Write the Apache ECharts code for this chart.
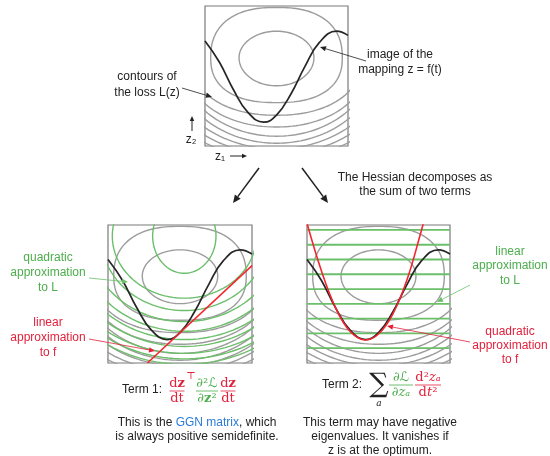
<!DOCTYPE html>
<html>
<head>
<meta charset="utf-8">
<script src="https://cdn.jsdelivr.net/npm/echarts@6/dist/echarts.min.js"></script>
<style>html,body{margin:0;padding:0;background:#fff}#main{width:550px;height:456px}</style>
</head>
<body>
<div id="main"></div>
<script>
// panel coords are normalised: x 0..1 left->right, y 0..1 top->bottom

// contours of the loss L(z): [rx, ryTop, ryBottom, squareness, closed]
var lossCenter = [0.50, 0.37];
var lossContours = [
    [0.262, 0.19, 0.20, 2.0, 1],
    [0.46, 0.36, 0.32, 2.4, 1],
    [0.60, 0.45, 0.41, 2.2, 0],
    [0.65, 0.54, 0.494, 2.1, 0],
    [0.68, 0.62, 0.56, 2.0, 0],
    [0.72, 0.68, 0.61, 2.0, 0],
    [0.78, 0.72, 0.65, 2.0, 0],
    [0.84, 0.76, 0.69, 2.0, 0],
    [0.90, 0.80, 0.73, 2.0, 0]
];

// quadratic approximation to L (green, panel 2): [rx, ry]
var quadCenter = [0.53, 0.08];
var quadContours = [
    [0.22, 0.27],
    [0.50, 0.45],
    [0.58, 0.54],
    [0.67, 0.62],
    [0.74, 0.69],
    [0.81, 0.75],
    [0.86, 0.80],
    [0.92, 0.85],
    [0.96, 0.89],
    [1.00, 0.93]
];

// the mapping z = f(t)
var curveX = [0, 0.1, 0.2, 0.3, 0.41, 0.5, 0.6, 0.7, 0.8, 0.92, 1.0];
var curveY = [0.25, 0.40, 0.60, 0.76, 0.83, 0.78, 0.63, 0.43, 0.26, 0.18, 0.21];

// linear approximation to f (red, panel 2)
var tangentX = [0.274, 1.0];
var tangentY = [1.0, 0.294];

// quadratic approximation to f (red, panel 3)
var parabolaX = [-0.01, 0.1, 0.2, 0.3, 0.41, 0.5, 0.6, 0.7, 0.8, 0.82];
var parabolaY = [-0.05, 0.33, 0.60, 0.77, 0.833, 0.79, 0.645, 0.395, 0.04, -0.04];

// linear approximation to L (green, panel 3): level lines
var linearLevels = [0.036, 0.143, 0.25, 0.357, 0.464, 0.571, 0.678, 0.785, 0.892];

var GRAY = '#9c9c9c', GREEN = '#6cbf6a', GREEN_T = '#4cae4c', RED = '#f3262e', RED_T = '#e3213c', BLUE = '#2b7bd6';
var SANS = '"Liberation Sans", Arial, sans-serif';
var SERIF = '"DejaVu Serif", "Liberation Serif", serif';

function ring(c, rx, ryT, ryB, p, closed) {
    var pts = [], n = 160;
    var end = closed ? 2 * Math.PI : Math.PI;
    for (var i = 0; i <= n; i++) {
        var a = i / n * end;
        var ca = Math.cos(a), sa = Math.sin(a);
        var ry = sa > 0 ? ryB : ryT;
        pts.push([c[0] + rx * Math.sign(ca) * Math.pow(Math.abs(ca), 2 / p),
                  c[1] + ry * Math.sign(sa) * Math.pow(Math.abs(sa), 2 / p)]);
    }
    return pts;
}
function zip(xs, ys) {
    return xs.map(function (x, i) { return [x, ys[i]]; });
}
function lineSeries(g, data, color, width, smooth, z) {
    return {
        type: 'line', xAxisIndex: g, yAxisIndex: g, data: data,
        showSymbol: false, smooth: smooth || false, clip: true, silent: true, z: z || 2,
        lineStyle: {color: color, width: width}
    };
}

var series = [];
[0, 1, 2].forEach(function (g) {
    lossContours.forEach(function (c) {
        series.push(lineSeries(g, ring(lossCenter, c[0], c[1], c[2], c[3], c[4]), GRAY, 1.4));
    });
});
quadContours.forEach(function (c) {
    series.push(lineSeries(1, ring(quadCenter, c[0], c[1], c[1], 2, 1), GREEN, 1.4, false, 3));
});
linearLevels.forEach(function (v) {
    series.push(lineSeries(2, [[0, v], [1, v]], GREEN, 1.8, false, 3));
});
[0, 1, 2].forEach(function (g) {
    series.push(lineSeries(g, zip(curveX, curveY), '#262626', 1.7, 0.45, 4));
});
series.push(lineSeries(1, zip(tangentX, tangentY), RED, 1.6, false, 5));
series.push(lineSeries(2, zip(parabolaX, parabolaY), RED, 1.6, 0.4, 5));

// ---- annotations
var graphic = [];
function txt(x, y, s, color, font, align, rich) {
    graphic.push({
        type: 'text', x: x, y: y, z: 10, silent: true,
        style: {
            text: s, fill: color || '#222', font: font || ('12px ' + SANS),
            align: align || 'center', verticalAlign: 'middle',
            textAlign: align || 'center', textVerticalAlign: 'middle',
            rich: rich
        }
    });
}
function arrow(x1, y1, x2, y2, color, w, head) {
    head = head || 6;
    var ang = Math.atan2(y2 - y1, x2 - x1);
    var bx = x2 - head * Math.cos(ang), by = y2 - head * Math.sin(ang);
    var hw = head * 0.45;
    graphic.push({type: 'line', z: 10, silent: true, shape: {x1: x1, y1: y1, x2: bx, y2: by},
        style: {stroke: color, lineWidth: w}});
    graphic.push({type: 'polygon', z: 10, silent: true, shape: {points: [
        [x2, y2],
        [bx + hw * Math.sin(ang), by - hw * Math.cos(ang)],
        [bx - hw * Math.sin(ang), by + hw * Math.cos(ang)]]},
        style: {fill: color}});
}
function frac(cx, y, num, den, color, w, rich) {
    txt(cx, y - 7, num, color, '13px ' + SERIF, 'center', rich);
    txt(cx, y + 7.5, den, color, '13px ' + SERIF, 'center', rich);
    graphic.push({type: 'line', z: 10, silent: true, shape: {x1: cx - w / 2, y1: y, x2: cx + w / 2, y2: y},
        style: {stroke: color, lineWidth: 0.8}});
}
var mathRich = {
    b: {font: 'bold 13px ' + SERIF},
    i: {font: 'italic 13px ' + SERIF},
    L: {font: '13px "DejaVu Sans", sans-serif'}
};

// top panel labels
txt(147, 77, 'contours of');
txt(147, 93, 'the loss L(z)');
arrow(182, 88, 212, 97, '#222', 0.8, 6);
txt(400, 55, 'image of the');
txt(400, 70, 'mapping z = f(t)');
arrow(366, 61, 320, 47, '#222', 0.8, 6);
txt(191, 140, 'z\u2082', '#222', '12px ' + SANS);
arrow(192, 131, 192, 116, '#222', 1, 5);
txt(220, 157, 'z\u2081', '#222', '12px ' + SANS);
arrow(230, 156, 247, 156, '#222', 1, 5);

// split arrows
arrow(259, 168, 233, 203, '#222', 1.5, 8);
arrow(302, 168, 328, 203, '#222', 1.5, 8);
txt(415, 178, 'The Hessian decomposes as');
txt(415, 192, 'the sum of two terms');

// panel 2 labels
txt(48, 258, 'quadratic', GREEN_T);
txt(48, 273, 'approximation', GREEN_T);
txt(48, 288, 'to L', GREEN_T);
arrow(89, 278, 128, 282, GREEN, 0.8, 6);
txt(48, 323, 'linear', RED_T);
txt(48, 338, 'approximation', RED_T);
txt(48, 353, 'to f', RED_T);
arrow(89, 339, 155, 351, RED_T, 0.8, 6);

// panel 3 labels
txt(510, 252, 'linear', GREEN_T);
txt(510, 266, 'approximation', GREEN_T);
txt(510, 281, 'to L', GREEN_T);
arrow(470, 285, 437, 302, GREEN, 0.8, 6);
txt(510, 332, 'quadratic', RED_T);
txt(510, 346, 'approximation', RED_T);
txt(510, 360, 'to f', RED_T);
arrow(470, 342, 387, 326, RED_T, 0.8, 6);

// term 1
txt(162, 390, 'Term 1:', '#222', '12px ' + SANS, 'right');
frac(177, 391, 'd{b|z}', 'dt', RED_T, 15, mathRich);
txt(191, 376, '\u22a4', RED_T, '10px ' + SERIF);
frac(207, 391, '\u2202\u00b2{L|\u2112}', '\u2202{b|z}\u00b2', GREEN_T, 22, mathRich);
frac(228, 391, 'd{b|z}', 'dt', RED_T, 15, mathRich);

// term 2
txt(362, 385, 'Term 2:', '#222', '12px ' + SANS, 'right');
txt(379, 385, '\u2211', '#222', '27px ' + SERIF);
txt(379, 404, 'a', '#222', 'italic 9px ' + SERIF);
frac(401, 385, '\u2202{L|\u2112}', '\u2202{i|z\u2090}', GREEN_T, 24, mathRich);
frac(428, 385, 'd\u00b2{i|z\u2090}', 'd{i|t}\u00b2', RED_T, 26, mathRich);

// captions
txt(197, 423, 'This is the {b|GGN matrix}, which', '#222', '12px ' + SANS, 'center',
    {b: {fill: BLUE, color: BLUE, font: '12px ' + SANS}});
txt(197, 437, 'is always positive semidefinite.');
txt(380, 423, 'This term may have negative');
txt(380, 437, 'eigenvalues. It vanishes if');
txt(380, 451, 'z is at the optimum.');

var grids = [
    {left: 205, top: 6, width: 143, height: 140},
    {left: 108, top: 225, width: 144, height: 138},
    {left: 307, top: 225, width: 143, height: 138}
];

var chart = echarts.init(document.getElementById('main'));
chart.setOption({
    animation: false,
    backgroundColor: '#fff',
    grid: grids.map(function (g) {
        return Object.assign({show: true, borderColor: '#7a7a7a', borderWidth: 1.2, backgroundColor: 'transparent'}, g);
    }),
    xAxis: grids.map(function (g, i) {
        return {type: 'value', gridIndex: i, min: 0, max: 1, show: false};
    }),
    yAxis: grids.map(function (g, i) {
        return {type: 'value', gridIndex: i, min: 0, max: 1, inverse: true, show: false};
    }),
    series: series,
    graphic: graphic
});
</script>
</body>
</html>
